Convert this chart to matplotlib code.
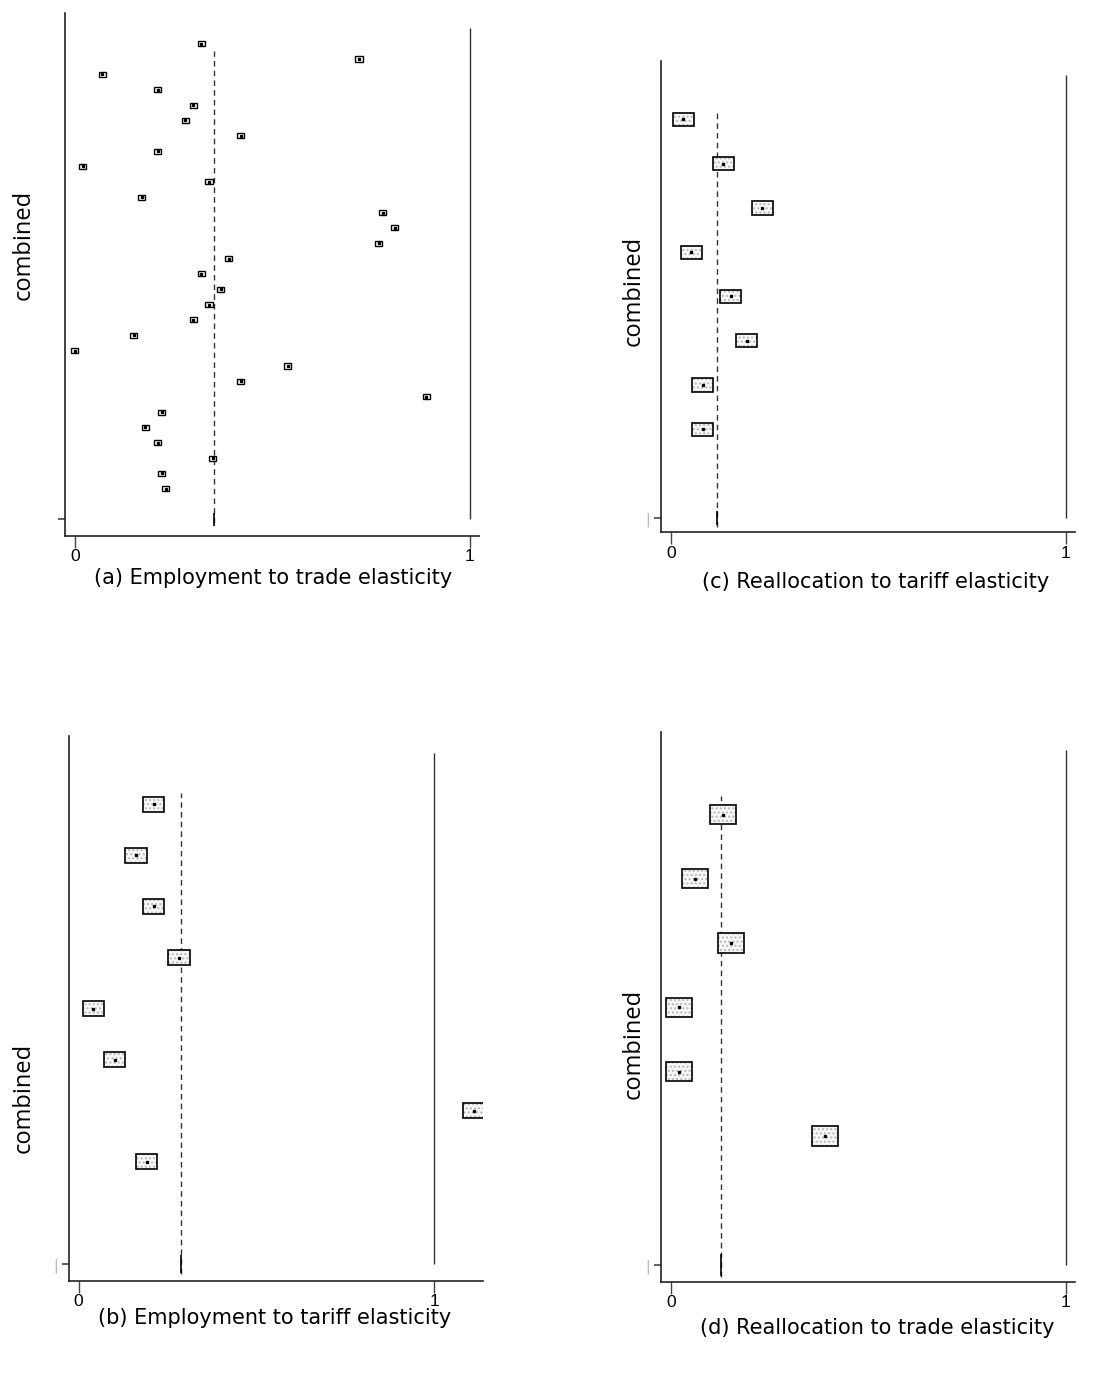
import matplotlib
matplotlib.use("Agg")
import matplotlib.pyplot as plt
import numpy as np

# study estimates, top to bottom, and pooled estimate for each panel
emp_trade = [0.320, 0.720, 0.070, 0.210, 0.300, 0.280, 0.420, 0.210, 0.020, 0.340,
             0.170, 0.780, 0.810, 0.770, 0.390, 0.320, 0.370, 0.340, 0.300, 0.150,
             0.000, 0.540, 0.420, 0.890, 0.220, 0.179, 0.210, 0.350, 0.220, 0.230]
emp_trade_combined = 0.352

emp_tariff = [0.211, 0.161, 0.211, 0.282, 0.041, 0.101, 1.111, 0.191]
emp_tariff_combined = 0.289

realloc_tariff = [0.031, 0.132, 0.231, 0.051, 0.151, 0.192, 0.081, 0.081]
realloc_tariff_combined = 0.117

realloc_trade = [0.131, 0.060, 0.151, 0.021, 0.021, 0.390]
realloc_trade_combined = 0.128

x_ticks = [0, 1]
x_ticklabels = ["0", "1"]
y_label = "combined"

W, H = 1114, 1374


def px_axes(fig, left, top, right, bottom):
    return fig.add_axes([left / W, 1 - bottom / H, (right - left) / W, (bottom - top) / H])


def draw_panel(ax, est, combined, xlim, ylim, box_w, box_h, dash_top, comb_h,
               small=False, tick_mark=True):
    n = len(est)
    ypos = np.arange(n + 1, 1, -1)
    est = np.asarray(est)

    # null line and pooled estimate
    ax.vlines(1, 0, n + 2, color="#333333", lw=1.0, zorder=1)
    ax.vlines(combined, -0.2, dash_top, color="#333333", lw=1.0,
              linestyles=(0, (4, 3)), zorder=1)
    ax.vlines(combined, -comb_h, comb_h, color="black", lw=1.2, zorder=2)

    # weight boxes
    if small:
        ax.barh(ypos, box_w, left=est - box_w / 2, height=box_h, color="white",
                edgecolor="black", lw=1.0, zorder=3)
    else:
        ax.barh(ypos, box_w, left=est - box_w / 2, height=box_h, color="#f8f8f8",
                edgecolor="#b8b8b8", hatch="....", lw=0, zorder=3)
        ax.barh(ypos, box_w, left=est - box_w / 2, height=box_h, fill=False,
                edgecolor="black", lw=1.2, zorder=4)
    ax.plot(est, ypos, ls="none", marker="s", ms=1.4, color="black", zorder=5)

    ax.set_xlim(*xlim)
    ax.set_ylim(*ylim)
    for s in ["top", "right"]:
        ax.spines[s].set_visible(False)
    for s in ["left", "bottom"]:
        ax.spines[s].set_linewidth(1.2)
        ax.spines[s].set_color("#222222")

    ax.set_xticks(x_ticks)
    ax.set_xticklabels(x_ticklabels, family=["Liberation Sans Narrow", "Liberation Sans"],
                       fontsize=12.5)
    ax.tick_params(axis="x", length=8.5, width=1.0, pad=1.0, color="#444444")
    ax.set_yticks([0])
    ax.set_yticklabels(["|" if tick_mark else ""], color="#b0b0b0", fontsize=10)
    ax.tick_params(axis="y", length=5, width=1.2, pad=3, color="#444444")


fig = plt.figure(figsize=(W / 100, H / 100), dpi=100)

ax_a = px_axes(fig, 65, 12.5, 479.3, 536)
draw_panel(ax_a, emp_trade, emp_trade_combined, (-0.0246, 1.0246), (-1.075, 33.03),
           0.018, 0.33, 30.5, 0.45, small=True, tick_mark=False)

ax_c = px_axes(fig, 661.3, 61.4, 1075, 532.5)
draw_panel(ax_c, realloc_tariff, realloc_tariff_combined, (-0.0245, 1.0236), (-0.334, 10.31),
           0.053, 0.30, 9.21, 0.16)

ax_b = px_axes(fig, 69.3, 736.4, 483.3, 1281)
draw_panel(ax_b, emp_tariff, emp_tariff_combined, (-0.0264, 1.138), (-0.333, 10.33),
           0.060, 0.29, 9.23, 0.18)

ax_d = px_axes(fig, 661.3, 731.6, 1075, 1282)
draw_panel(ax_d, realloc_trade, realloc_trade_combined, (-0.0245, 1.0236), (-0.27, 8.29),
           0.066, 0.30, 7.29, 0.17)

# y labels
for (x, y) in [(24, 245), (634, 291), (24, 1098), (634, 1044)]:
    fig.text(x / W, 1 - y / H, y_label, rotation=90, ha="center", va="center",
             family="Open Sans", fontsize=17)

# captions
captions = ["(a) Employment to trade elasticity", "(c) Reallocation to tariff elasticity",
            "(b) Employment to tariff elasticity", "(d) Reallocation to trade elasticity"]
for cap, (x, y) in zip(captions, [(273, 578), (876, 582), (275, 1318), (877, 1328)]):
    fig.text(x / W, 1 - y / H, cap, ha="center", va="center",
             family="DejaVu Sans", fontsize=15)

fig.savefig("out.png", dpi=100)
